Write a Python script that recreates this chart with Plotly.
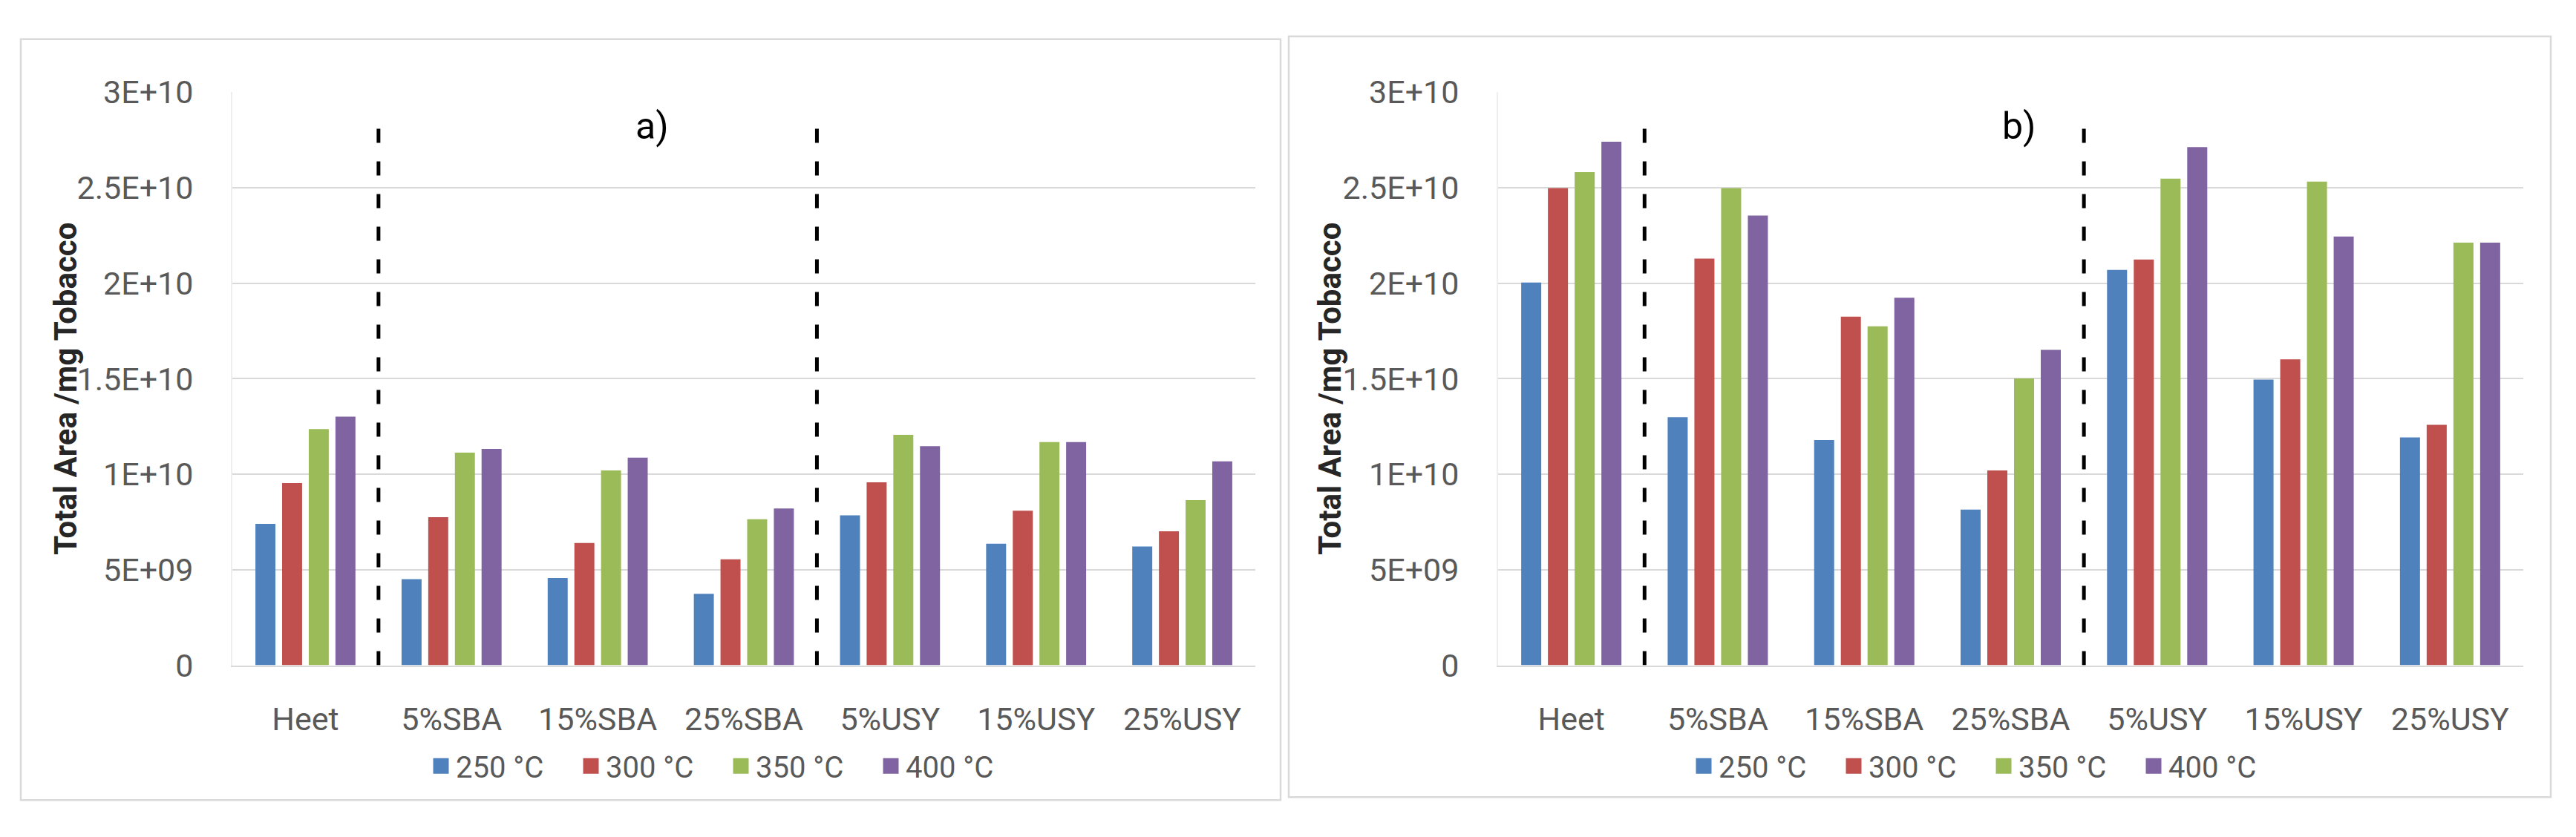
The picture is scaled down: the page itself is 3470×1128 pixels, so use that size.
import plotly.graph_objects as go

# ---------------- data ----------------
categories = ["Heet", "5%SBA", "15%SBA", "25%SBA", "5%USY", "15%USY", "25%USY"]
series_names = ["250 °C", "300 °C", "350 °C", "400 °C"]
colors = ["#4F81BD", "#C0504D", "#9BBB59", "#8064A2"]

# panel a)  (Total Area / mg Tobacco)
a_250 = [7.40e9, 4.51e9, 4.57e9, 3.74e9, 7.85e9, 6.36e9, 6.22e9]
a_300 = [9.54e9, 7.75e9, 6.40e9, 5.55e9, 9.58e9, 8.09e9, 7.02e9]
a_350 = [12.37e9, 11.13e9, 10.20e9, 7.65e9, 12.07e9, 11.69e9, 8.65e9]
a_400 = [13.02e9, 11.33e9, 10.87e9, 8.21e9, 11.47e9, 11.69e9, 10.68e9]

# panel b)
b_250 = [20.04e9, 12.99e9, 11.79e9, 8.15e9, 20.70e9, 14.96e9, 11.93e9]
b_300 = [24.98e9, 21.29e9, 18.25e9, 10.20e9, 21.24e9, 16.02e9, 12.59e9]
b_350 = [25.82e9, 24.98e9, 17.75e9, 15.02e9, 25.48e9, 25.32e9, 22.13e9]
b_400 = [27.41e9, 23.55e9, 19.24e9, 16.51e9, 27.13e9, 22.45e9, 22.13e9]

y_tickvals = [0, 5e9, 1e10, 1.5e10, 2e10, 2.5e10, 3e10]
y_ticktext = ["0", "5E+09", "1E+10", "1.5E+10", "2E+10", "2.5E+10", "3E+10"]
y_title = "Total Area /mg Tobacco"
panel_labels = ["a)", "b)"]
separators = [0.5, 3.5]        # category positions of the dashed separators
separator_top = 2.88e10

W, H = 3470, 1128
FONT = "Roboto"
TICK_COLOR = "#595959"
GRID = "#D9D9D9"

panels = [
    dict(data=[a_250, a_300, a_350, a_400], xa="x", ya="y", legend="legend"),
    dict(data=[b_250, b_300, b_350, b_400], xa="x2", ya="y2", legend="legend2"),
]

fig = go.Figure()
for p in panels:
    for name, vals, col in zip(series_names, p["data"], colors):
        fig.add_trace(go.Bar(
            x=categories, y=vals, name=name, marker=dict(color=col, line=dict(width=0)),
            xaxis=p["xa"], yaxis=p["ya"], showlegend=False,
        ))
    # legend entries (square markers)
    for name, col in zip(series_names, colors):
        fig.add_trace(go.Scatter(
            x=[None], y=[None], mode="markers", name=name,
            marker=dict(symbol="square", size=16, color=col, line=dict(color=col, width=5)),
            xaxis=p["xa"], yaxis=p["ya"], legend=p["legend"], showlegend=True,
        ))

def px_x(v):
    return v / W

def px_y(v):
    return 1 - v / H

ydom = [px_y(912), px_y(104)]
xdoms = [[px_x(313), px_x(1691)], [px_x(2018), px_x(3399)]]

axis_common_x = dict(
    type="category", categoryorder="array", categoryarray=categories,
    showgrid=False, showline=True, linecolor=GRID, linewidth=2,
    ticks="", ticklabelstandoff=34,
    tickfont=dict(family=FONT, size=43, color=TICK_COLOR),
    range=[-0.5, 6.5], fixedrange=True,
)
axis_common_y = dict(
    range=[0, 3e10], tickvals=y_tickvals, ticktext=y_ticktext,
    showgrid=True, gridcolor=GRID, gridwidth=2,
    showline=True, linecolor="#EEEEEE", linewidth=2,
    zeroline=False, ticks="", ticklabelstandoff=42,
    tickfont=dict(family=FONT, size=43, color=TICK_COLOR),
    domain=ydom, fixedrange=True,
)

legend_common = dict(orientation="h", xanchor="center", yanchor="middle",
                     font=dict(family=FONT, size=40, color=TICK_COLOR), bgcolor="rgba(0,0,0,0)",
                     itemwidth=30, entrywidth=157, entrywidthmode="pixels")

layout = dict(
    width=W, height=H,
    margin=dict(l=0, r=0, t=0, b=0),
    paper_bgcolor="white", plot_bgcolor="white",
    barmode="group", bargap=0.27, bargroupgap=0.25,
    font=dict(family=FONT, color=TICK_COLOR),
    xaxis=dict(axis_common_x, domain=xdoms[0], anchor="y"),
    xaxis2=dict(axis_common_x, domain=xdoms[1], anchor="y2"),
    yaxis=dict(axis_common_y, anchor="x"),
    yaxis2=dict(axis_common_y, anchor="x2"),
    legend=dict(legend_common, x=px_x(978), y=px_y(1054)),
    legend2=dict(legend_common, x=px_x(2679), y=px_y(1054)),
)
fig.update_layout(**layout)

shapes = []
# panel borders
for (x0, y0, x1, y1) in [(28, 29, 1725, 1102), (1736, 25, 3436, 1098)]:
    shapes.append(dict(type="rect", xref="paper", yref="paper",
                       x0=px_x(x0), x1=px_x(x1), y0=px_y(y1), y1=px_y(y0),
                       line=dict(color=GRID, width=2.5), fillcolor="rgba(0,0,0,0)", layer="below"))
# dashed separators
for xa, ya in [("x", "y"), ("x2", "y2")]:
    for s in separators:
        shapes.append(dict(type="line", xref=xa, yref=ya, x0=s, x1=s, y0=0, y1=separator_top,
                           line=dict(color="black", width=5, dash="19px,25px"), layer="above"))
fig.update_layout(shapes=shapes)

annotations = []
# y-axis titles
for xc in [89, 1792]:
    annotations.append(dict(text="<b>" + y_title + "</b>", xref="paper", yref="paper",
                            x=px_x(xc), y=px_y(522), xanchor="center", yanchor="middle",
                            textangle=-90, showarrow=False,
                            font=dict(family=FONT, size=42, color="#262626")))
# panel labels
for lab, xc in zip(panel_labels, [878, 2719]):
    annotations.append(dict(text=lab, xref="paper", yref="paper",
                            x=px_x(xc), y=px_y(152), xanchor="center", yanchor="middle",
                            showarrow=False, font=dict(family=FONT, size=50, color="black")))
fig.update_layout(annotations=annotations)

fig.write_html("out.html", config={"displayModeBar": False},
               post_script="document.body.style.margin='0';")
